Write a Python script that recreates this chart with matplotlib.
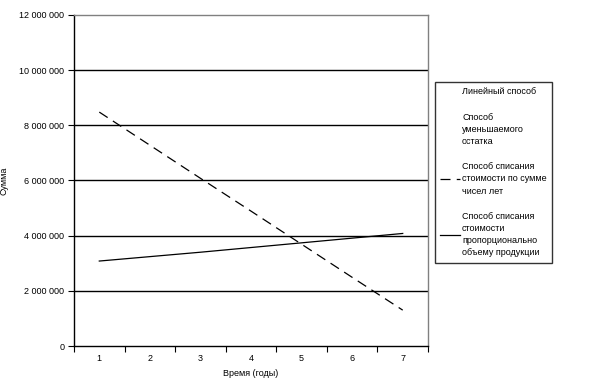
import matplotlib
matplotlib.use("Agg")
from matplotlib import pyplot as plt
from matplotlib.lines import Line2D
from matplotlib.ticker import FuncFormatter

plt.rcParams["font.family"] = ["Liberation Sans", "DejaVu Sans"]

# Data.
years = [1, 2, 3, 4, 5, 6, 7]
sum_of_years = [8.48e6, 7.28e6, 6.08e6, 4.89e6, 3.69e6, 2.49e6, 1.30e6]
by_output = [3.08e6, 3.24e6, 3.40e6, 3.57e6, 3.74e6, 3.91e6, 4.08e6]
y_ticks = [0, 2e6, 4e6, 6e6, 8e6, 10e6, 12e6]
labels = ["Линейный способ",
          "Способ\nуменьшаемого\nостатка",
          "Способ списания\nстоимости по сумме\nчисел лет",
          "Способ списания\nстоимости\nпропорционально\nобъему продукции"]

fig = plt.figure(dpi=100, figsize=(6.13, 3.86))
ax = fig.add_axes([74 / 613, 1 - 346 / 386, (428 - 74) / 613, (346 - 15) / 386])

# Horizontal grid lines.
for v in y_ticks[1:-1]:
    ax.axhline(v, color="black", linewidth=1.0, zorder=1)

ax.plot(years, sum_of_years, color="black", linewidth=0.9,
        linestyle=(0, (8, 5)), zorder=3)
ax.plot(years, by_output, color="black", linewidth=0.9, zorder=3)

ax.set_xlim(0.5, 7.5)
ax.set_ylim(0, 12e6)
ax.set_yticks(y_ticks)
ax.yaxis.set_major_formatter(FuncFormatter(lambda v, p: f"{int(v):,}".replace(",", " ")))
ax.set_xticks([x + 0.5 for x in [0] + years])
ax.set_xticklabels([])
ax.set_xticks(years, minor=True)
ax.set_xticklabels([str(y) for y in years], minor=True)
ax.tick_params(axis="x", which="minor", length=0, pad=6, labelsize=6.5)
ax.tick_params(axis="x", which="major", length=4, width=0.8, direction="out")
ax.tick_params(axis="y", length=4, width=0.8, direction="out", labelsize=6.5, pad=3)

for s in ["top", "right"]:
    ax.spines[s].set_color("#808080")
    ax.spines[s].set_linewidth(1.0)
for s in ["left", "bottom"]:
    ax.spines[s].set_color("black")
    ax.spines[s].set_linewidth(1.0)

ax.set_xlabel("Время (годы)", fontsize=6.5, labelpad=4)
ax.set_ylabel("Сумма", fontsize=6.5)
ax.yaxis.set_label_coords(-0.184, 0.5)

handles = [Line2D([], [], linestyle="none"),
           Line2D([], [], linestyle="none"),
           Line2D([], [], color="black", linewidth=0.9, linestyle=(0, (8, 5))),
           Line2D([], [], color="black", linewidth=0.9)]
leg = fig.legend(handles, labels, loc="upper left",
                 bbox_to_anchor=(435 / 613, 1 - 82 / 386),
                 fontsize=6.5, frameon=True, fancybox=False, edgecolor="black",
                 handlelength=2.2, handletextpad=0.2, labelspacing=1.8,
                 borderpad=0.6, borderaxespad=0)
leg.get_frame().set_linewidth(1.0)
for t in leg.get_texts():
    t.set_linespacing(1.45)

fig.savefig("out.png", dpi=100)
